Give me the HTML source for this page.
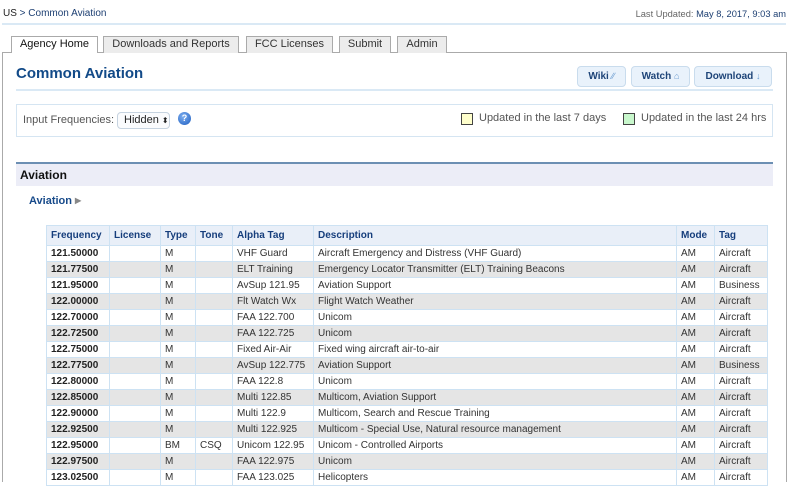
<!DOCTYPE html>
<html><head><meta charset="utf-8">
<style>
*{margin:0;padding:0;box-sizing:border-box}
body{width:800px;height:471px;overflow:hidden;background:#fff;font-family:"Liberation Sans",Arial,sans-serif;position:relative;color:#333}
.abs{position:absolute}
.bc{left:3px;top:8px;font-size:10px;color:#1d3f72;white-space:nowrap}
.bc b{font-weight:normal;color:#222}
.lu{right:14px;top:9px;font-size:9.3px;color:#666;white-space:nowrap}
.lu span{color:#1d3f72}
.hl{height:2px;background:#dae9f5}
.tab{top:36px;height:17px;border:1px solid #aaa;border-bottom:none;background:#ececec;font-size:11px;color:#333;text-align:center;line-height:15px;white-space:nowrap}
.tab.act{background:#fff;height:17px;z-index:2;color:#111}
.panel{left:2px;top:52px;width:785px;height:430px;border:1px solid #aaa;border-bottom:none;background:#fff}
.title{left:16px;top:65px;font-size:15px;font-weight:bold;color:#124a88;white-space:nowrap}
.btn{top:66px;height:21px;border:1px solid #c9dced;border-radius:4px;background:#e9f2fb;font-size:10px;font-weight:bold;color:#1d4478;text-align:center;line-height:19px;white-space:nowrap}
.btn i{font-style:normal;font-weight:normal;color:#6a9bd0;font-size:9px}
.fbox{left:16px;top:104px;width:757px;height:33px;border:1px solid #d5e5f2;background:#fff}
.lab{font-size:11px;color:#555;white-space:nowrap}
.sel{left:117px;top:112px;width:53px;height:17px;border:1px solid #c6d3e0;border-radius:4px;background:#fafbfd;font-size:11px;color:#222;line-height:15px;padding-left:6px}
.help{left:178px;top:112px;width:13px;height:13px;border-radius:50%;background:radial-gradient(circle at 40% 35%,#7fb0f0,#1c5cc0);color:#fff;font-size:9px;font-weight:bold;text-align:center;line-height:13px}
.sq{top:113px;width:12px;height:12px;border:1px solid #444}
.sech{left:16px;top:162px;width:757px;height:24px;background:#ecedf7;border-top:2px solid #6c8fb3}
.sech span{position:absolute;left:4px;top:4px;font-size:12px;font-weight:bold;color:#111}
.sub{left:29px;top:195px;font-size:11px;font-weight:bold;color:#174a8a;white-space:nowrap}
.sub i{font-style:normal;color:#888;font-size:8px;margin-left:3px;position:relative;top:-1px}
table{position:absolute;left:46px;top:225px;width:721px;border-collapse:collapse;table-layout:fixed;font-size:10px}
td,th{border:1px solid #cde2f3;padding:0 0 0 4px;white-space:nowrap;overflow:hidden;text-align:left;vertical-align:middle}
th{height:20px;background:#e9eff8;color:#163e7c;font-weight:bold}
td{height:16px;color:#333;line-height:14px;background:#fff}
td:first-child{font-weight:bold;color:#222}
tbody tr:nth-child(even) td{background:#e5e5e5}
</style></head><body>
<div class="abs bc"><b>US</b> &gt; Common Aviation</div>
<div class="abs lu">Last Updated: <span>May 8, 2017, 9:03 am</span></div>
<div class="abs hl" style="left:2px;top:23px;width:784px"></div>

<div class="abs panel"></div>
<div class="abs tab act" style="left:11px;width:87px">Agency Home</div>
<div class="abs tab" style="left:103px;width:136px">Downloads and Reports</div>
<div class="abs tab" style="left:246px;width:87px">FCC Licenses</div>
<div class="abs tab" style="left:339px;width:52px">Submit</div>
<div class="abs tab" style="left:397px;width:50px">Admin</div>

<div class="abs title">Common Aviation</div>
<div class="abs btn" style="left:577px;width:49px">Wiki <i>&#x2215;&#x2215;</i></div>
<div class="abs btn" style="left:631px;width:59px">Watch <i>&#x2302;</i></div>
<div class="abs btn" style="left:694px;width:78px">Download <i>&#x2193;</i></div>
<div class="abs hl" style="left:16px;top:89px;width:757px"></div>

<div class="abs fbox"></div>
<div class="abs lab" style="left:23px;top:114px">Input Frequencies:</div>
<div class="abs sel">Hidden <span style="font-size:8px">&#x2B0D;</span></div>
<div class="abs help">?</div>
<div class="abs sq" style="left:461px;background:#ffffcc"></div>
<div class="abs lab" style="left:479px;top:112px">Updated in the last 7 days</div>
<div class="abs sq" style="left:623px;background:#c8f7cc"></div>
<div class="abs lab" style="left:641px;top:112px">Updated in the last 24 hrs</div>

<div class="abs sech"><span>Aviation</span></div>
<div class="abs sub">Aviation<i>&#x25B6;</i></div>

<table>
<colgroup><col style="width:63px"><col style="width:51px"><col style="width:35px"><col style="width:37px"><col style="width:81px"><col style="width:363px"><col style="width:38px"><col style="width:53px"></colgroup>
<thead><tr><th>Frequency</th><th>License</th><th>Type</th><th>Tone</th><th>Alpha Tag</th><th>Description</th><th>Mode</th><th>Tag</th></tr></thead>
<tbody>
<tr><td>121.50000</td><td></td><td>M</td><td></td><td>VHF Guard</td><td>Aircraft Emergency and Distress (VHF Guard)</td><td>AM</td><td>Aircraft</td></tr>
<tr><td>121.77500</td><td></td><td>M</td><td></td><td>ELT Training</td><td>Emergency Locator Transmitter (ELT) Training Beacons</td><td>AM</td><td>Aircraft</td></tr>
<tr><td>121.95000</td><td></td><td>M</td><td></td><td>AvSup 121.95</td><td>Aviation Support</td><td>AM</td><td>Business</td></tr>
<tr><td>122.00000</td><td></td><td>M</td><td></td><td>Flt Watch Wx</td><td>Flight Watch Weather</td><td>AM</td><td>Aircraft</td></tr>
<tr><td>122.70000</td><td></td><td>M</td><td></td><td>FAA 122.700</td><td>Unicom</td><td>AM</td><td>Aircraft</td></tr>
<tr><td>122.72500</td><td></td><td>M</td><td></td><td>FAA 122.725</td><td>Unicom</td><td>AM</td><td>Aircraft</td></tr>
<tr><td>122.75000</td><td></td><td>M</td><td></td><td>Fixed Air-Air</td><td>Fixed wing aircraft air-to-air</td><td>AM</td><td>Aircraft</td></tr>
<tr><td>122.77500</td><td></td><td>M</td><td></td><td>AvSup 122.775</td><td>Aviation Support</td><td>AM</td><td>Business</td></tr>
<tr><td>122.80000</td><td></td><td>M</td><td></td><td>FAA 122.8</td><td>Unicom</td><td>AM</td><td>Aircraft</td></tr>
<tr><td>122.85000</td><td></td><td>M</td><td></td><td>Multi 122.85</td><td>Multicom, Aviation Support</td><td>AM</td><td>Aircraft</td></tr>
<tr><td>122.90000</td><td></td><td>M</td><td></td><td>Multi 122.9</td><td>Multicom, Search and Rescue Training</td><td>AM</td><td>Aircraft</td></tr>
<tr><td>122.92500</td><td></td><td>M</td><td></td><td>Multi 122.925</td><td>Multicom - Special Use, Natural resource management</td><td>AM</td><td>Aircraft</td></tr>
<tr><td>122.95000</td><td></td><td>BM</td><td>CSQ</td><td>Unicom 122.95</td><td>Unicom - Controlled Airports</td><td>AM</td><td>Aircraft</td></tr>
<tr><td>122.97500</td><td></td><td>M</td><td></td><td>FAA 122.975</td><td>Unicom</td><td>AM</td><td>Aircraft</td></tr>
<tr><td>123.02500</td><td></td><td>M</td><td></td><td>FAA 123.025</td><td>Helicopters</td><td>AM</td><td>Aircraft</td></tr>
</tbody>
</table>
</body></html>
